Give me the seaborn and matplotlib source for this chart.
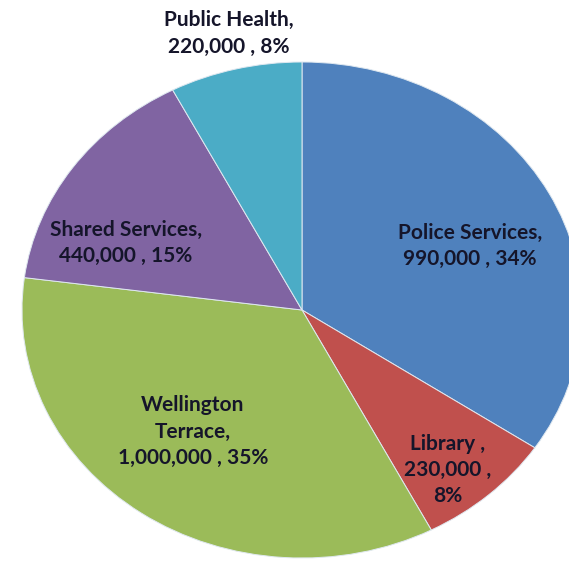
import matplotlib
matplotlib.use("Agg")
import matplotlib.pyplot as plt
import seaborn as sns

# Budget allocation by service area
categories = ["Police Services", "Library", "Wellington Terrace", "Shared Services", "Public Health"]
amounts = [990000, 230000, 1000000, 440000, 220000]
label_names = ["Police Services,", "Library ,", "Wellington\nTerrace,", "Shared Services,", "Public Health,"]
value_breaks = [" ", "\n", " ", " ", " "]
colors = ["#4F81BD", "#C0504D", "#9BBB59", "#8064A2", "#4BACC6"]

# label anchors in pie coordinates (unit radius)
label_xy = [(0.60, 0.26), (0.52, -0.645), (-0.39, -0.49), (-0.63, 0.27), (-0.26, 1.115)]

sns.set_theme(style="white")
plt.rcParams["font.family"] = ["Lato", "DejaVu Sans"]

fig = plt.figure(figsize=(5.69, 5.63), dpi=100)
fig.patch.set_facecolor("white")
ax = fig.add_axes([22 / 569, 5 / 563, 560 / 569, 496 / 563])

palette = sns.color_palette(colors)
wedges, _ = ax.pie(
    amounts,
    colors=palette,
    startangle=90,
    counterclock=False,
    radius=1.0,
    wedgeprops=dict(edgecolor="#dfe8f0", linewidth=0.7),
)
ax.set_aspect("auto")
ax.set_xlim(-1, 1)
ax.set_ylim(-1, 1)
ax.axis("off")

total = sum(amounts)
for name, amt, brk, (x, y) in zip(label_names, amounts, value_breaks, label_xy):
    pct = round(100 * amt / total)
    text = f"{name}\n{amt:,} ,{brk}{pct}%"
    ax.text(x, y, text, ha="center", va="center", multialignment="center",
            fontsize=15, fontweight="bold", color="#15152a",
            linespacing=1.38, clip_on=False)

fig.savefig("out.png", dpi=100)
